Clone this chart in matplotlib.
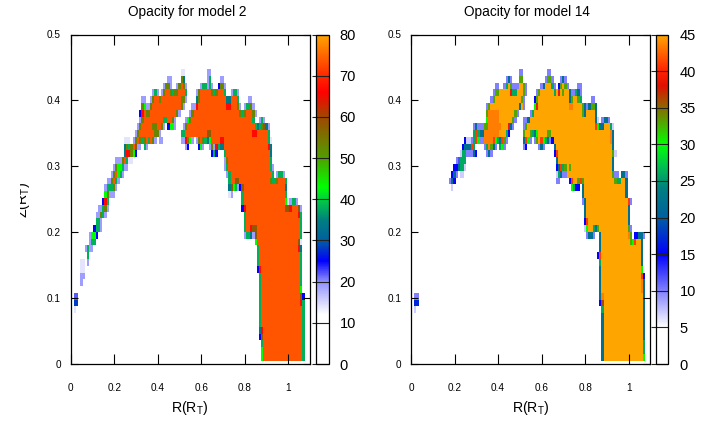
import re
import numpy as np
import matplotlib
matplotlib.use("Agg")
import matplotlib.pyplot as plt
from matplotlib.colors import LinearSegmentedColormap, Normalize
from matplotlib.transforms import Bbox

plt.rcParams['font.family'] = ['Liberation Sans', 'DejaVu Sans']
plt.rcParams['mathtext.fontset'] = 'custom'
plt.rcParams['mathtext.rm'] = 'Liberation Sans'
plt.rcParams['mathtext.default'] = 'rm'

W, H = 721, 421

# opacity levels behind the letters used in the rows below
levels_2 = dict(a=14, b=19, c=22, B=25, D=28, T=34, G=38, g=43, o=53, n=58, r=67, R=69.5, O=73.5)
levels_14 = dict(a=7, b=10, c=12, B=15, D=17, T=22, G=26, g=30, o=33, n=36, r=39, R=41, P=43.5, O=45)

# each row is one z band from the top down, "column:cells" with a count after a letter for repeats
rows_2 = [
    "51:aa 63:bb",
    "45:bb 51:oT 63:bG 69:bb",
    "43:boob 49:boOob 60:bGGbGb 68:Boob",
    "38:bGb 42:boOOoGooO3G 58:boO5oGoO3G 74:bGGb",
    "33:bb 37:boOOoO9o2b 58:ToO12T2O3G 82:bb",
    "33:ogbboO13ob 56:bbrO13r2O3ob 80:bGGob",
    "32:BrOooO12ob 55:boO21oGoO3ob",
    "32:boO9G2O2ob 53:bgoO28G 87:bGb",
    "31:boO5ooOOob 45:Bggb 52:boO31GTGonTb",
    "30:boO7oob 51:GGO10n2O19r2O5G",
    "25:aaa 29:boOoGoOGOob 41:bb 51:bbrogb 58:boOoGTgO4r2O20Ga",
    "25:ToGoOnbb 34:Gb 53:bB 59:Bgb 64:bobrGT2O20rT",
    "25:TrrogB 65:BGB 71:GO20T",
    "21:bbboOGaa 71:boO19G",
    "20:bog2Gbb 71:bGO19Gb",
    "19:boOgGb 72:bGO19G 95:bG2b",
    "17:bboOGb 73:GO2n2O14oG2oO3G",
    "16:bG3ob 73:TngGbBnO19T",
    "16:gob3 73:ab 79:GO19G",
    "15:BrG 79:GO19ga 101:bGGb",
    "13:bbGob 79:BrO18n2rO3nb",
    "12:bboGb 80:GO24rG",
    "12:GGb 80:GO25G",
    "11:BGGb 80:GO2rn2O20G",
    "9:bggB 80:bG2TbnO20G",
    "9:bGG 85:gO19na",
    "7:bGbb 86:GO18rT",
    "8:G 86:GO19G",
    "5:aa 8:b 86:GO19G",
    "5:aa 86:BrO18G",
    "5:bb 87:GO18G",
    "5:b 87:GO18G",
    "87:GO18g",
    "2:cc 87:GO18nB",
    "2:DD 87:GO18rG",
    "2:a 87:GO19G",
    "87:GO19G",
    "87:GO19G",
    "87:TrO18G",
    "87:BnO18G",
    "88:GO18G",
    "88:gO18G",
    "88:gO18G",
]

rows_14 = [
    "50:bb 63:bb",
    "44:bTb 50:oo 62:boob 69:bTb",
    "39:bb 43:bGOob 48:bbOOob 60:bTO3Gb 68:BoOob 77:bb",
    "38:bo2O5rG2O3ob 58:boO6GOrOoO2Tb 75:bGTb",
    "37:boO12ob 57:BoO14ToO2oG 83:bb",
    "35:boO13TOb 57:grO14P2O4oTb 82:To2T",
    "35:oP5O7ob 55:bGO22oTO4T",
    "35:gP5O6ob 52:bbTO30Ta 88:bTTb",
    "29:bTb3o2P6O3rTb 52:boO31RgTTO3Ga",
    "29:GRGT2P7O3GB 52:oO2oGTgO4o2O27PT",
    "25:BaabGRgbbP4RgGTRob 52:TRgb 57:boORgGTbBO26PT",
    "24:BTTTRG 34:bGPoTb 41:Ggb 52:bB 59:bTb 66:TO26T",
    "23:aGGbbbTB 35:bTb 66:BRO25oa",
    "21:bcG3 67:TO25T",
    "20:BBTGGa 67:BTRGoOoO19T",
    "19:BTb 23:aa 67:aGTbbO21obb 97:TTb",
    "18:bTB 67:bb 73:BROOoRoO14oGGOOT",
    "19:a 74:gGBB 79:TO19T",
    "79:TO19T",
    "79:bTO19Rb",
    "80:TO19T",
    "80:TO19T",
    "80:BRO18T",
    "80:agOOGToO13ob",
    "81:bTTb 87:TO12Po 103:BBTTb",
    "87:TO13ogRO2T",
    "87:TO18T",
    "86:BRO18T",
    "87:GO18T",
    "87:TO18g",
    "87:TO18RB",
    "87:TO18PT",
    "87:TO18PT",
    "2:bb 87:TPO18T",
    "2:DD 87:BnO18T",
    "2:a 88:GO18T",
    "88:TO18T",
    "88:TO18T",
    "88:TO18T",
    "88:TO18T",
    "88:TO18G",
    "88:TO18G",
    "88:TO18g",
]

nodes_2 = [(0, '#ffffff'), (12, '#ffffff'), (20, '#8f8fff'), (25, '#0000ff'), (30, '#0060a0'),
           (35, '#008080'), (40, '#00d040'), (43, '#00ff00'), (50, '#50a000'), (60, '#a04800'),
           (66, '#ff0000'), (70, '#ff2800'), (80, '#ffa500')]
nodes_14 = [(0, '#ffffff'), (5, '#ffffff'), (10, '#8080ff'), (15, '#0000ff'), (20, '#0060a0'),
            (24, '#008080'), (27, '#00c050'), (30, '#00ff00'), (35, '#8a6a00'), (38, '#e01000'),
            (40, '#ff2000'), (45, '#ffa500')]

ticks_2 = [0, 10, 20, 30, 40, 50, 60, 70, 80]
ticks_14 = [0, 5, 10, 15, 20, 25, 30, 35, 40, 45]
axis_ticks_x = [0, 0.2, 0.4, 0.6, 0.8, 1]
axis_ticks_y = [0, 0.1, 0.2, 0.3, 0.4, 0.5]
tick_names_x = ['0', '0.2', '0.4', '0.6', '0.8', '1']
tick_names_y = ['0', '0.1', '0.2', '0.3', '0.4', '0.5']

n_cols = 112
dz = 0.01029


def build_grid(rows, levels):
    grid = np.full((len(rows), n_cols), np.nan)
    for t, row in enumerate(rows):
        for start, cells in re.findall(r'(\d+):(\S+)', row):
            j = int(start)
            for letter, count in re.findall(r'([A-Za-z])(\d*)', cells):
                n = int(count) if count else 1
                grid[t, j:j + n] = levels[letter]
                j += n
    return grid


def axes_px(left, right, top, bottom):
    return [left / W, 1 - bottom / H, (right - left) / W, (bottom - top) / H]


def panel(left, right, cb_left, cb_right, rows, levels, nodes, vmax, ticks, title, title_x):
    ax = fig.add_axes(axes_px(left, right, 34.5, 364))
    grid = build_grid(rows, levels)
    x_edges = np.arange(n_cols + 1) * 0.01 - 0.005
    z_edges = 0.005 + dz * np.arange(len(rows) + 1)
    cmap = LinearSegmentedColormap.from_list('op', [(v / vmax, c) for v, c in nodes], N=512)
    norm = Normalize(0, vmax)
    mesh = ax.pcolormesh(x_edges, z_edges, grid[::-1], cmap=cmap, norm=norm, linewidth=0, rasterized=True)
    ax.set_xlim(0, 1.1)
    ax.set_ylim(0, 0.5)
    ax.set_xticks(axis_ticks_x, tick_names_x)
    ax.set_yticks(axis_ticks_y, tick_names_y)
    ax.tick_params(axis='x', direction='in', top=True, length=7, width=0.8, labelsize=7.2, pad=13.5)
    ax.tick_params(axis='y', direction='in', right=True, length=5, width=0.8, labelsize=7.2, pad=7)
    for s in ax.spines.values():
        s.set_linewidth(0.9)

    cax = fig.add_axes(axes_px(cb_left, cb_right, 34.5, 364))
    cb = fig.colorbar(mesh, cax=cax)
    cb.set_ticks(ticks)
    cb.ax.tick_params(direction='in', length=cb_right - cb_left, width=0.8, labelsize=10.5, pad=8, color='#222222')
    cb.outline.set_linewidth(0.9)

    fig.text(title_x / W, 1 - 12 / H, title, ha='center', va='center', fontsize=9.8)
    fig.text((left + right) / 2 / W, 1 - 408 / H, 'R(R$_{T}$)', ha='center', va='center', fontsize=10.2)


fig = plt.figure(figsize=(W / 100, H / 100), dpi=100)
panel(70.6, 310, 316, 328.5, rows_2, levels_2, nodes_2, 80, ticks_2, 'Opacity for model 2', 187.5)
panel(411, 650.4, 656.3, 668.3, rows_14, levels_14, nodes_14, 45, ticks_14, 'Opacity for model 14', 527)

# the y label is cut off on its left side in the original
yl = fig.text(32 / W, 1 - 200 / H, 'Z(R$_{T}$)', rotation=90, ha='right', va='center', fontsize=10.2)
yl.set_clip_on(True)
yl.set_clip_box(Bbox([[20, 0], [W, H]]))

fig.savefig('out.png', dpi=100)
